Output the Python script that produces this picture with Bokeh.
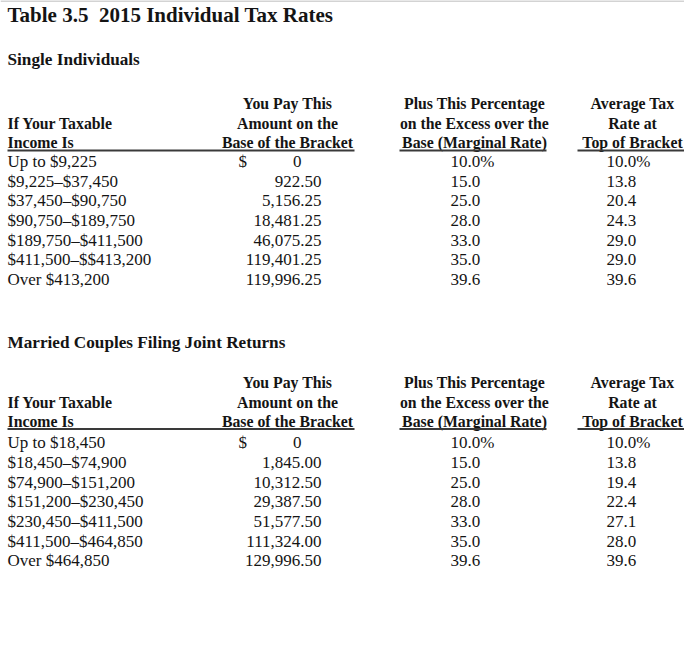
from bokeh.plotting import figure
from bokeh.models import Range1d, ColumnDataSource
from bokeh.core.properties import value
from bokeh.embed import file_html
from bokeh.resources import INLINE

# ---------------- data ----------------
title = "Table 3.5\u00a0 2015 Individual Tax Rates"
section_titles = ["Single Individuals", "Married Couples Filing Joint Returns"]

col1_header = ["If Your Taxable", "Income Is"]
col2_header = ["You Pay This", "Amount on the", "Base of the Bracket"]
col3_header = ["Plus This Percentage", "on the Excess over the", "Base (Marginal Rate)"]
col4_header = ["Average Tax", "Rate at", "Top of Bracket"]

single_income = ["Up to $9,225", "$9,225\u2013$37,450", "$37,450\u2013$90,750",
                 "$90,750\u2013$189,750", "$189,750\u2013$411,500",
                 "$411,500\u2013$$413,200", "Over $413,200"]
single_base = [0, 922.50, 5156.25, 18481.25, 46075.25, 119401.25, 119996.25]
single_marginal = [10.0, 15.0, 25.0, 28.0, 33.0, 35.0, 39.6]
single_average = [10.0, 13.8, 20.4, 24.3, 29.0, 29.0, 39.6]

married_income = ["Up to $18,450", "$18,450\u2013$74,900", "$74,900\u2013$151,200",
                  "$151,200\u2013$230,450", "$230,450\u2013$411,500",
                  "$411,500\u2013$464,850", "Over $464,850"]
married_base = [0, 1845.00, 10312.50, 29387.50, 51577.50, 111324.00, 129996.50]
married_marginal = [10.0, 15.0, 25.0, 28.0, 33.0, 35.0, 39.6]
married_average = [10.0, 13.8, 19.4, 22.4, 27.1, 28.0, 39.6]

# ---------------- layout ----------------
W, H = 684, 645
X0, Y0 = 1, 1
FONT = "Liberation Serif"
TXT = "#141414"
LINE = "#3a3a3a"

p = figure(width=W, height=H, output_backend="svg", toolbar_location=None,
           x_range=Range1d(X0, X0 + W), y_range=Range1d(Y0 + H, Y0),
           x_axis_type=None, y_axis_type=None, min_border=0)
p.grid.visible = False
p.outline_line_color = None
p.background_fill_color = "white"
p.border_fill_color = "white"

# faint rule along the top edge, as in the scanned page
p.segment(x0=[X0], y0=[Y0 + 0.5], x1=[X0 + W], y1=[Y0 + 0.5],
          line_color="#c4c4c4", line_width=1.5)


def put(xs, ys, texts, size, bold=False, align="left"):
    src = ColumnDataSource(dict(x=xs, y=ys, t=texts))
    p.text(x="x", y="y", text="t", source=src, text_font=value(FONT),
           text_font_size=size, text_font_style="bold" if bold else "normal",
           text_align=align, text_baseline="middle", text_color=TXT)


put([8], [15], [title], "21px", bold=True)

ROW_H = 19.65
HDR_H = 19.5
BODY = "17px"
HEAD = "15.8px"


def section(name, name_y, hdr_y, line_y, row_y, income, base, marg, avg):
    put([8], [name_y], [name], "17.2px", bold=True)
    # headers
    hy = [hdr_y + i * HDR_H for i in range(3)]
    put([8, 8], hy[1:], col1_header, HEAD, bold=True)
    put([288] * 3, hy, col2_header, HEAD, bold=True, align="center")
    put([475] * 3, hy, col3_header, HEAD, bold=True, align="center")
    put([633] * 3, hy, col4_header, HEAD, bold=True, align="center")
    # underline segments
    p.segment(x0=[8, 400, 578], y0=[line_y] * 3, x1=[355, 547, 686], y1=[line_y] * 3,
              line_color=LINE, line_width=2)
    ry = [row_y + i * ROW_H for i in range(len(income))]
    put([8] * len(income), ry, income, BODY)
    # base amounts, decimal aligned
    btxt = [f"{v:,.2f}" if v else "0" for v in base]
    bx = [322 if v else 302 for v in base]
    put(bx, ry, btxt, BODY, align="right")
    put([239], [ry[0]], ["$"], BODY)
    mtxt = [f"{v:.1f}%" if i == 0 else f"{v:.1f}" for i, v in enumerate(marg)]
    put([451] * len(marg), ry, mtxt, BODY)
    atxt = [f"{v:.1f}%" if i == 0 else f"{v:.1f}" for i, v in enumerate(avg)]
    put([607] * len(avg), ry, atxt, BODY)


section(section_titles[0], 60, 104, 151, 162,
        single_income, single_base, single_marginal, single_average)
section(section_titles[1], 342.7, 383.3, 429.5, 443.3,
        married_income, married_base, married_marginal, married_average)

open("out.html", "w").write(file_html(p, INLINE))
